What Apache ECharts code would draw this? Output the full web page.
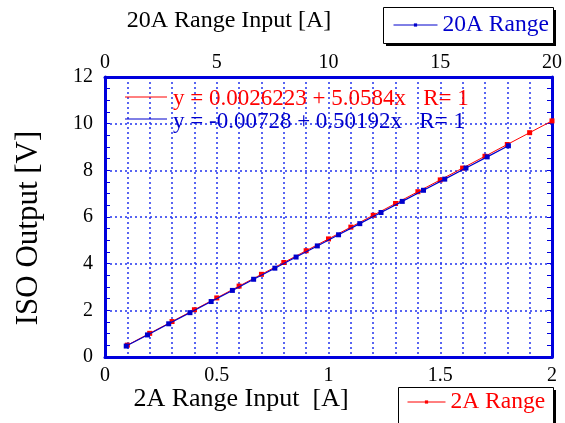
<!DOCTYPE html>
<html>
<head>
<meta charset="utf-8">
<script src="https://cdn.jsdelivr.net/npm/echarts@6/dist/echarts.min.js"></script>
<style>html,body{margin:0;padding:0;background:#fff}#c{width:565px;height:423px}</style>
</head>
<body>
<div id="c"></div>
<script>
// 2A Range: input [A] (bottom axis) vs ISO output [V]
const x2A = [0.1,0.2,0.3,0.4,0.5,0.6,0.7,0.8,0.9,1.0,1.1,1.2,1.3,1.4,1.5,1.6,1.7,1.8,1.9,2.0];
const y2A = [0.508,1.014,1.520,2.026,2.532,3.038,3.543,4.049,4.555,5.061,5.567,6.073,6.578,7.084,7.590,8.096,8.602,9.108,9.614,10.119];
// 20A Range: input [A] (top axis) vs ISO output [V]
const x20A = [0.95,1.9,2.85,3.8,4.75,5.7,6.65,7.6,8.55,9.5,10.45,11.4,12.35,13.3,14.25,15.2,16.15,17.1,18.05];
const y20A = [0.469,0.946,1.423,1.900,2.377,2.854,3.331,3.807,4.284,4.761,5.238,5.715,6.192,6.669,7.145,7.622,8.099,8.576,9.053];
const yTicks = [0,2,4,6,8,10,12];
const bottomTicks = [0,0.5,1,1.5,2];
const topTicks = [0,5,10,15,20];
const eqRed = 'y = 0.0026223 + 5.0584x   R= 1';
const eqBlue = 'y = -0.00728 + 0.50192x   R= 1';

const FONT = '"Liberation Serif","DejaVu Serif",serif';
const AXC = '#0000dd';
const GRIDC = '#2233ee';
const RED = '#ff0000';
const BLUE = '#0000cc';

const chart = echarts.init(document.getElementById('c'), null, {renderer:'canvas'});
const gridLine = {show:true, lineStyle:{color:GRIDC, width:1.5, type:[2,3]}};
const opt = {
  animation:false,
  backgroundColor:'#fff',
  grid:{left:105, top:77, right:13, bottom:66},
  xAxis:[
    {type:'value', position:'bottom', min:0, max:2, interval:0.5,
     axisLine:{show:true, onZero:false, lineStyle:{color:AXC, width:3}},
     axisTick:{show:false},
     axisLabel:{color:'#000', fontSize:20, fontFamily:FONT, margin:9,
       formatter:v=>bottomTicks.includes(v)?String(v):''},
     splitLine:gridLine,
     minorTick:{show:false, splitNumber:5},
     minorSplitLine:{show:true, lineStyle:{color:GRIDC, width:1.5, type:[2,3]}}},
    {type:'value', position:'top', min:0, max:20, interval:5,
     axisLine:{show:true, onZero:false, lineStyle:{color:AXC, width:3}},
     axisTick:{show:false},
     axisLabel:{color:'#000', fontSize:20, fontFamily:FONT, margin:4,
       formatter:v=>topTicks.includes(v)?String(v):''},
     splitLine:{show:false}}
  ],
  yAxis:[
    {type:'value', position:'left', min:0, max:12, interval:2,
     axisLine:{show:true, onZero:false, lineStyle:{color:AXC, width:3}},
     axisTick:{show:true, inside:true, length:5, lineStyle:{color:AXC, width:1}},
     minorTick:{show:true, splitNumber:4, length:5, lineStyle:{color:AXC, width:1}},
     axisLabel:{color:'#000', fontSize:20, fontFamily:FONT, margin:12,
       formatter:v=>yTicks.includes(v)?String(v):''},
     splitLine:gridLine},
    {type:'value', position:'right', min:0, max:12, interval:2,
     axisLine:{show:true, onZero:false, lineStyle:{color:AXC, width:3}},
     axisTick:{show:true, inside:true, length:5, lineStyle:{color:AXC, width:1}},
     minorTick:{show:true, splitNumber:4, length:5, lineStyle:{color:AXC, width:1}},
     axisLabel:{show:false},
     splitLine:{show:false}}
  ],
  legend:[
    {data:['20A Range'], left:393, top:13, padding:0, itemWidth:44, itemHeight:4, z:20,
     lineStyle:{width:1}, textStyle:{color:BLUE, fontSize:23.5, fontFamily:FONT}},
    {data:['2A Range'], left:407, top:390, padding:0, itemWidth:38, itemHeight:4, z:20,
     lineStyle:{width:1}, textStyle:{color:RED, fontSize:23.5, fontFamily:FONT}}
  ],
  series:[
    {name:'2A Range', type:'line', xAxisIndex:0, yAxisIndex:0,
     data:x2A.map((x,i)=>[x,y2A[i]]), symbol:'rect', symbolSize:5,
     lineStyle:{color:RED, width:1}, itemStyle:{color:RED}, z:3},
    {name:'20A Range', type:'line', xAxisIndex:1, yAxisIndex:0,
     data:x20A.map((x,i)=>[x,y20A[i]]), symbol:'rect', symbolSize:5,
     lineStyle:{color:BLUE, width:1.2}, itemStyle:{color:BLUE}, z:4}
  ],
  graphic:[
    // legend boxes with solid drop shadow
    {type:'rect', z:1, shape:{x:386, y:10, width:170, height:36}, style:{fill:'#000'}},
    {type:'rect', z:2, shape:{x:383.5, y:7.5, width:170, height:36}, style:{fill:'#fff', stroke:'#000', lineWidth:1}},
    {type:'rect', z:1, shape:{x:401, y:390, width:155, height:45}, style:{fill:'#000'}},
    {type:'rect', z:2, shape:{x:398.5, y:387.5, width:155, height:45}, style:{fill:'#fff', stroke:'#000', lineWidth:1}},
    // axis titles
    {type:'text', style:{text:'20A Range Input [A]', x:229, y:21, font:'24px '+FONT, fill:'#000', textAlign:'center', textVerticalAlign:'middle'}},
    {type:'text', style:{text:'2A Range Input  [A]', x:241, y:399, font:'26px '+FONT, fill:'#000', textAlign:'center', textVerticalAlign:'middle'}},
    {type:'text', rotation:Math.PI/2, x:29, y:228, style:{text:'ISO Output [V]', x:0, y:0, font:'31px '+FONT, fill:'#000', textAlign:'center', textVerticalAlign:'middle'}},
    // fit equations
    {type:'line', shape:{x1:125, y1:97, x2:167, y2:97}, style:{stroke:RED, lineWidth:1}, z:10},
    {type:'line', shape:{x1:125, y1:119, x2:167, y2:119}, style:{stroke:BLUE, lineWidth:1}, z:10},
    {type:'text', z:10, style:{text:eqRed, x:173, y:99, font:'23px '+FONT, fill:RED, textVerticalAlign:'middle'}},
    {type:'text', z:10, style:{text:eqBlue, x:173, y:122, font:'23px '+FONT, fill:BLUE, textVerticalAlign:'middle'}}
  ]
};
chart.setOption(opt);
</script>
</body>
</html>
